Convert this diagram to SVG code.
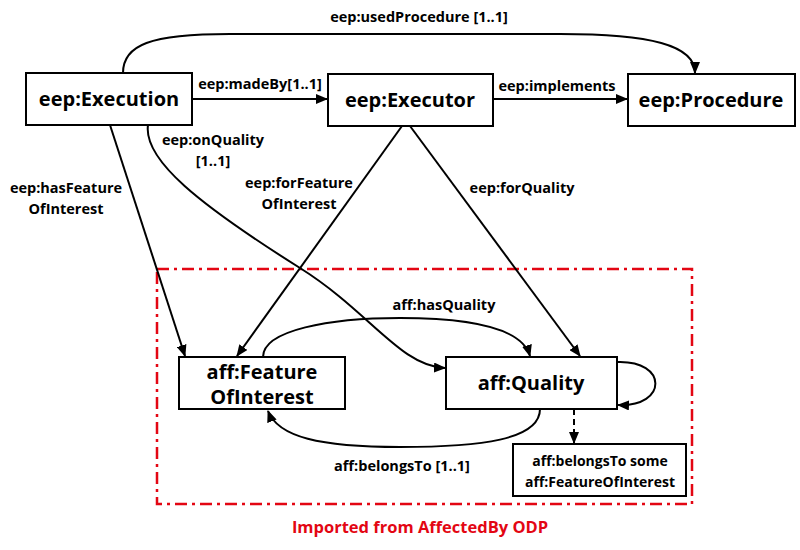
<svg xmlns="http://www.w3.org/2000/svg" width="800" height="550" viewBox="0 0 800 550">
  <style>
    .box { fill: #fff; stroke: #000; stroke-width: 2; }
    .node { font-family: "Open Sans", "Liberation Sans", sans-serif; font-weight: 700; font-size: 20px; fill: #000; text-anchor: middle; }
    .small { font-family: "Open Sans", "Liberation Sans", sans-serif; font-weight: 700; font-size: 14px; fill: #000; text-anchor: middle; }
    .lbl { font-family: "Open Sans", "Liberation Sans", sans-serif; font-weight: 700; font-size: 14.5px; fill: #000; text-anchor: middle; }
    .edge { fill: none; stroke: #000; stroke-width: 2; marker-end: url(#arrow); }
    .dashed { stroke-dasharray: 6 4; }
    .odp { fill: none; stroke: #e30613; stroke-width: 2.5; stroke-dasharray: 12 5 3 5; }
    .odp-title { font-family: "Open Sans", "Liberation Sans", sans-serif; font-weight: 700; font-size: 16.5px; fill: #e30613; text-anchor: middle; }
  </style>
  <defs>
    <marker id="arrow" viewBox="0 0 12 10" refX="11" refY="5" markerWidth="12" markerHeight="10" markerUnits="userSpaceOnUse" orient="auto">
      <path d="M0,0 L12,5 L0,10 Z" fill="#000"/>
    </marker>
  </defs>

  <rect width="800" height="550" fill="#fff"/>

  <!-- AffectedBy ODP boundary -->
  <g id="odp-boundary">
    <rect class="odp" x="157" y="269" width="535" height="235"/>
    <text class="odp-title" x="420" y="533">Imported from AffectedBy ODP</text>
  </g>

  <!-- connectors -->
  <g id="connectors">
    <path class="edge" d="M123,73 C123,45 150,34 230,34 L560,34 C650,34 695,45 695,73"/>
    <text class="lbl" x="419" y="22">eep:usedProcedure [1..1]</text>

    <path class="edge" d="M192,99 L327,99"/>
    <text class="lbl" x="260" y="89">eep:madeBy[1..1]</text>

    <path class="edge" d="M493,99 L627,99"/>
    <text class="lbl" x="557" y="91">eep:implements</text>

    <path class="edge" d="M110,125 L185,356"/>
    <text class="lbl" x="66" y="193">eep:hasFeature</text>
    <text class="lbl" x="66" y="214">OfInterest</text>

    <path class="edge" d="M148,125 C143,160 200,205 300,268 C370,312 400,366 445,368"/>
    <text class="lbl" x="213" y="145">eep:onQuality</text>
    <text class="lbl" x="213" y="166">[1..1]</text>

    <path class="edge" d="M402,126 L237,356"/>
    <text class="lbl" x="299" y="188">eep:forFeature</text>
    <text class="lbl" x="299" y="209">OfInterest</text>

    <path class="edge" d="M410,126 L580,356"/>
    <text class="lbl" x="522" y="193">eep:forQuality</text>

    <path class="edge" d="M263,357 C263,330 330,318 400,318 C470,318 522,328 530,356"/>
    <text class="lbl" x="444" y="310">aff:hasQuality</text>

    <path class="edge" d="M540,409 C540,440 480,447 400,447 C320,447 278,437 268,411"/>
    <text class="lbl" x="402" y="471">aff:belongsTo [1..1]</text>

    <path class="edge" d="M617,362 C668,360 668,407 618,405"/>

    <path class="edge dashed" d="M574,409 L574,443"/>
  </g>

  <!-- nodes -->
  <g id="execution">
    <rect class="box" x="26" y="73" width="166" height="52"/>
    <text class="node" x="109" y="106">eep:Execution</text>
  </g>
  <g id="executor">
    <rect class="box" x="328" y="74" width="165" height="52"/>
    <text class="node" x="410" y="107">eep:Executor</text>
  </g>
  <g id="procedure">
    <rect class="box" x="628" y="74" width="167" height="52"/>
    <text class="node" x="711" y="107">eep:Procedure</text>
  </g>
  <g id="feature-of-interest">
    <rect class="box" x="179" y="357" width="166" height="52"/>
    <text class="node" x="262" y="379">aff:Feature</text>
    <text class="node" x="262" y="404">OfInterest</text>
  </g>
  <g id="quality">
    <rect class="box" x="446" y="357" width="171" height="52"/>
    <text class="node" x="531" y="390">aff:Quality</text>
  </g>
  <g id="belongs-to-restriction">
    <rect class="box" x="513" y="444" width="173" height="52"/>
    <text class="small" x="600" y="466">aff:belongsTo some</text>
    <text class="small" x="600" y="487">aff:FeatureOfInterest</text>
  </g>
</svg>
